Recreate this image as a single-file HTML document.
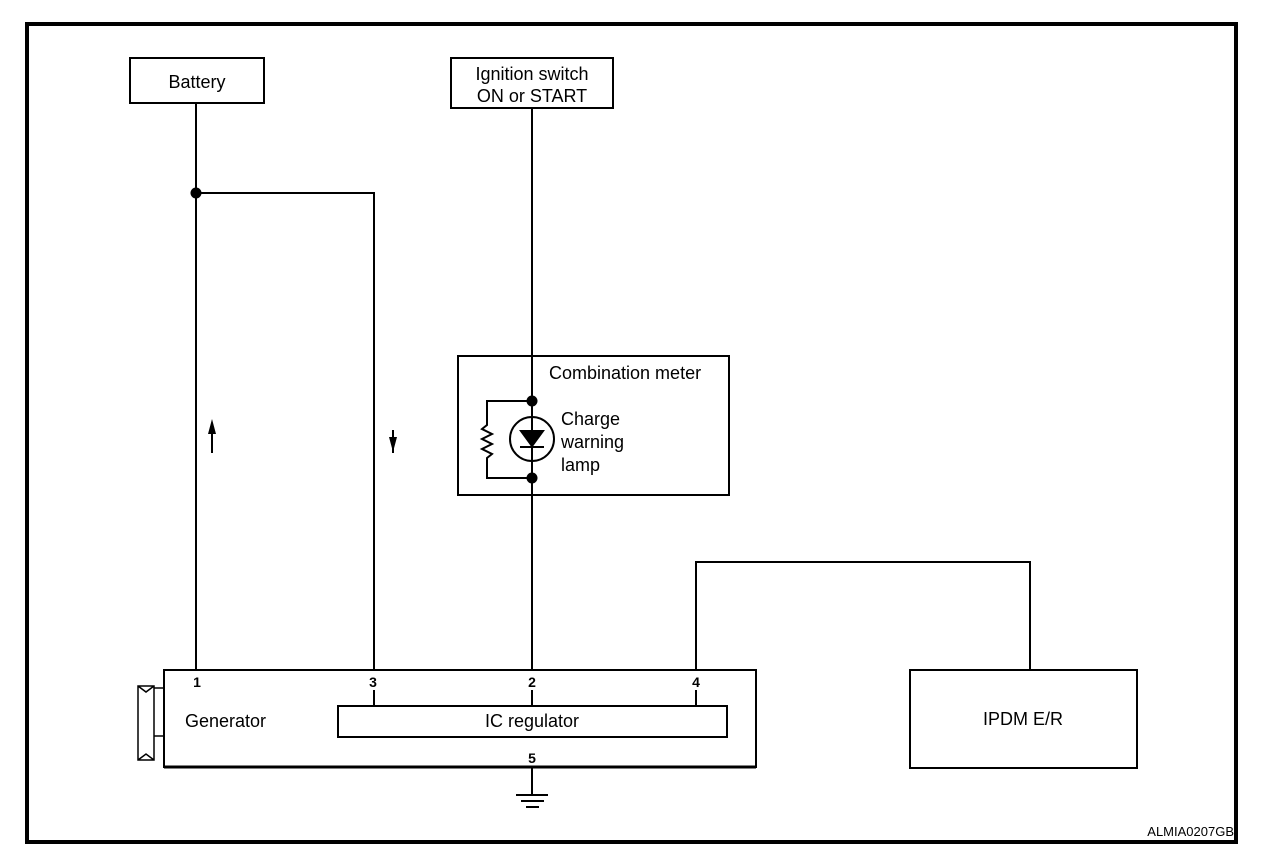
<!DOCTYPE html>
<html><head><meta charset="utf-8"><style>
html,body{margin:0;padding:0;background:#fff;}
svg{display:block;}
text{font-family:"Liberation Sans",sans-serif;fill:#000;}
</style></head><body>
<svg width="1280" height="860" viewBox="0 0 1280 860" xmlns="http://www.w3.org/2000/svg">
<rect x="27" y="24" width="1209" height="818" fill="none" stroke="#000" stroke-width="4"/>
<g fill="none" stroke="#000" stroke-width="2">
<rect x="130" y="58" width="134" height="45"/>
<rect x="451" y="58" width="162" height="50"/>
<rect x="458" y="356" width="271" height="139"/>
<rect x="164" y="670" width="592" height="97"/>
<rect x="338" y="706" width="389" height="31"/>
<rect x="910" y="670" width="227" height="98"/>
<path d="M196 103V670M196 193H374V670M532 108V670M696 670V562H1030V670M374 690V706M532 690V706M696 690V706M532 767V795"/>
<path d="M532 401H487V425l-5 4 10 5-10 5 10 5-10 5 10 5-5 4V478H532"/>
<circle cx="532" cy="439" r="22"/>
<path d="M164 688H154V736H164M154 688V686L138 686 138 760 154 760V736M138 686l8 6 8-6M138 760l8-6 8 6" stroke-width="1.5"/>
<path d="M516 795H548M521 801H544M526 807H539"/>
<path d="M212 453V430M393 430V453"/>
</g>
<line x1="164" y1="767" x2="756" y2="767" stroke="#000" stroke-width="3"/>
<path d="M521 431H543L532 446Z M520 447H544" fill="#000" stroke="#000" stroke-width="2"/>
<circle cx="196" cy="193" r="5.5" fill="#000"/>
<circle cx="532" cy="401" r="5.5" fill="#000"/>
<circle cx="532" cy="478" r="5.5" fill="#000"/>
<path d="M212 419L208 434H216Z" fill="#000"/>
<path d="M393 452L389 437H397Z" fill="#000"/>
<g font-size="18">
<text x="197" y="88" text-anchor="middle">Battery</text>
<text x="532" y="80" text-anchor="middle">Ignition switch</text>
<text x="532" y="102" text-anchor="middle">ON or START</text>
<text x="549" y="379">Combination meter</text>
<text x="561" y="425">Charge</text>
<text x="561" y="448">warning</text>
<text x="561" y="471">lamp</text>
<text x="185" y="727">Generator</text>
<text x="532" y="727" text-anchor="middle">IC regulator</text>
<text x="1023" y="725" text-anchor="middle">IPDM E/R</text>
</g>
<g font-size="14" font-weight="bold" text-anchor="middle">
<text x="197" y="687">1</text>
<text x="373" y="687">3</text>
<text x="532" y="687">2</text>
<text x="696" y="687">4</text>
<text x="532" y="763">5</text>
</g>
<text x="1234" y="836" font-size="13" text-anchor="end">ALMIA0207GB</text>
</svg>
</body></html>
